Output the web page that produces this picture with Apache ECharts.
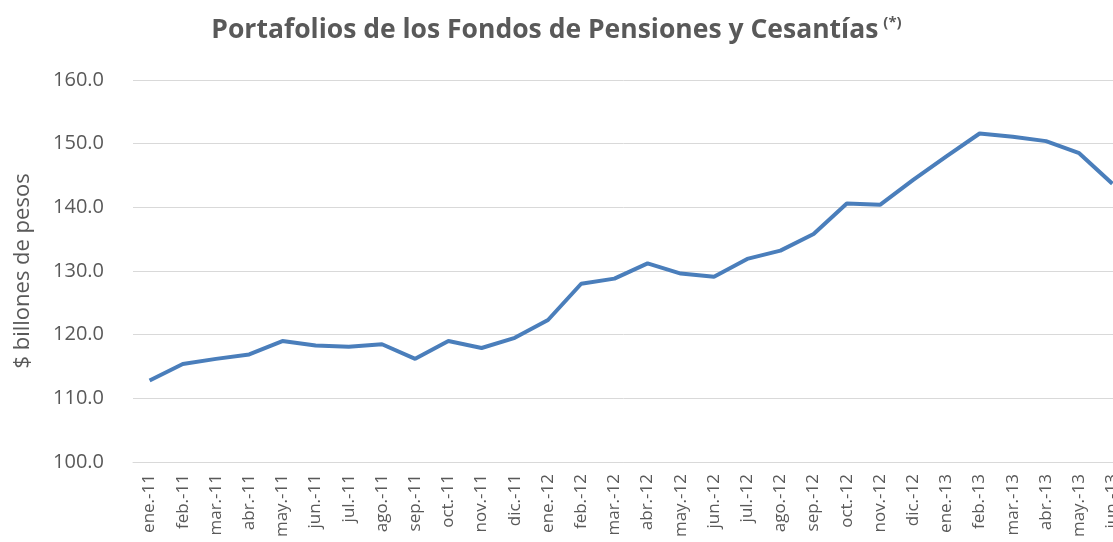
<!DOCTYPE html>
<html>
<head>
<meta charset="utf-8">
<script src="https://cdn.jsdelivr.net/npm/echarts@6/dist/echarts.min.js"></script>
<style>
  html, body { margin: 0; padding: 0; background: #fff; }
  #chart { width: 1113px; height: 542px; }
</style>
</head>
<body>
<div id="chart"></div>
<script>
var months = [
  "ene.-11", "feb.-11", "mar.-11", "abr.-11", "may.-11", "jun.-11",
  "jul.-11", "ago.-11", "sep.-11", "oct.-11", "nov.-11", "dic.-11",
  "ene.-12", "feb.-12", "mar.-12", "abr.-12", "may.-12", "jun.-12",
  "jul.-12", "ago.-12", "sep.-12", "oct.-12", "nov.-12", "dic.-12",
  "ene.-13", "feb.-13", "mar.-13", "abr.-13", "may.-13", "jun.-13"
];
var portafolio = [
  112.8, 115.4, 116.2, 116.9, 119.0, 118.3,
  118.1, 118.5, 116.2, 119.0, 117.9, 119.5,
  122.3, 128.0, 128.8, 131.2, 129.6, 129.1,
  131.9, 133.2, 135.8, 140.6, 140.4, 144.3,
  148.0, 151.6, 151.1, 150.4, 148.5, 143.7
];
var yMin = 100, yMax = 160, yStep = 10;

var myChart = echarts.init(document.getElementById("chart"));
var gray = "#595959";

var option = {
  animation: false,
  title: {
    text: "{t|Portafolios de los Fondos de Pensiones y Cesantías} {s|(*)}",
    left: "center",
    top: 10,
    textStyle: {
      rich: {
        t: {
          fontFamily: "Open Sans",
          fontWeight: "bold",
          fontSize: 26.5,
          color: gray
        },
        s: {
          fontFamily: "Open Sans",
          fontWeight: "bold",
          fontSize: 15,
          color: gray,
          verticalAlign: "top",
          padding: [0, 0, 16, 0]
        }
      }
    }
  },
  grid: {
    left: 133,
    right: -16,
    top: 80,
    bottom: 80,
    containLabel: false,
    outerBoundsMode: "none"
  },
  xAxis: {
    type: "category",
    data: months,
    boundaryGap: true,
    axisLine: { lineStyle: { color: "#d9d9d9" } },
    axisTick: { length: 6, lineStyle: { color: "#d9d9d9" } },
    axisLabel: {
      rotate: 90,
      interval: 0,
      color: gray,
      fontFamily: "Open Sans",
      fontSize: 17,
      margin: 12
    }
  },
  yAxis: {
    type: "value",
    min: yMin,
    max: yMax,
    interval: yStep,
    name: "$ billones de pesos",
    nameLocation: "middle",
    nameGap: 99,
    nameTextStyle: {
      color: gray,
      fontFamily: "Open Sans",
      fontSize: 22
    },
    axisLine: { show: false },
    axisTick: { show: false },
    axisLabel: {
      color: gray,
      fontFamily: "Open Sans",
      fontSize: 20,
      margin: 29,
      formatter: function (v) { return v.toFixed(1); }
    },
    splitLine: { lineStyle: { color: "#d9d9d9", width: 1 } }
  },
  series: [
    {
      type: "line",
      data: portafolio,
      symbol: "none",
      lineStyle: { color: "#4a7ebb", width: 4 }
    }
  ]
};

myChart.setOption(option);
</script>
</body>
</html>
